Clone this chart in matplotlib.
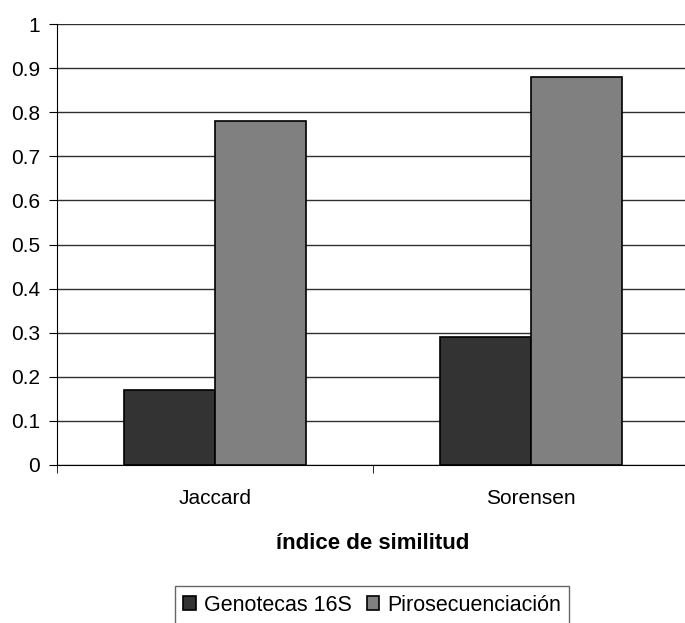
import matplotlib.pyplot as plt
import numpy as np

plt.rcParams['font.family'] = ['Liberation Sans', 'DejaVu Sans']

# datos
indices = ['Jaccard', 'Sorensen']
genotecas = [0.17, 0.29]
pirosec = [0.78, 0.88]
yticks = [0, 0.1, 0.2, 0.3, 0.4, 0.5, 0.6, 0.7, 0.8, 0.9, 1]
ylabels = ['0', '0.1', '0.2', '0.3', '0.4', '0.5', '0.6', '0.7', '0.8', '0.9', '1']

fig = plt.figure(figsize=(6.85, 6.23), dpi=100)
ax = fig.add_axes([57/685, 158/623, 632/685, 441/623])

x = np.arange(len(indices))
w = 0.288
ax.bar(x - w/2, genotecas, w, color='#333333', edgecolor='black', linewidth=1.2, label='Genotecas 16S', zorder=3)
ax.bar(x + w/2, pirosec, w, color='#808080', edgecolor='black', linewidth=1.2, label='Pirosecuenciación', zorder=3)

ax.set_xlim(-0.5, 1.5)
ax.set_ylim(0, 1)
ax.set_yticks(yticks)
ax.set_yticklabels(ylabels, fontsize=15)
ax.yaxis.grid(True, color='#303030', linewidth=1)
ax.set_axisbelow(True)

ax.set_xticks(x)
ax.set_xticklabels(indices, fontsize=15)
ax.tick_params(axis='x', length=0, pad=17)
ax.set_xticks([-0.5, 0.5, 1.5], minor=True)
ax.tick_params(axis='x', which='minor', length=6, direction='out', color='black')
ax.tick_params(axis='y', length=6, color='black', pad=6)

for s in ['top', 'right']:
    ax.spines[s].set_visible(False)
for s in ['left', 'bottom']:
    ax.spines[s].set_color('black')

ax.set_xlabel('índice de similitud', fontsize=16, fontweight='bold', labelpad=18)

leg = fig.legend(loc='upper center', bbox_to_anchor=(372/685, 1 - 586/623), ncol=2, fontsize=15.5,
                 frameon=True, fancybox=False, edgecolor='#404040', handlelength=0.6, handleheight=0.6,
                 handletextpad=0.35, columnspacing=0.7, borderpad=0.4, borderaxespad=0)
leg.get_frame().set_linewidth(1)

plt.savefig('out.png', dpi=100)
